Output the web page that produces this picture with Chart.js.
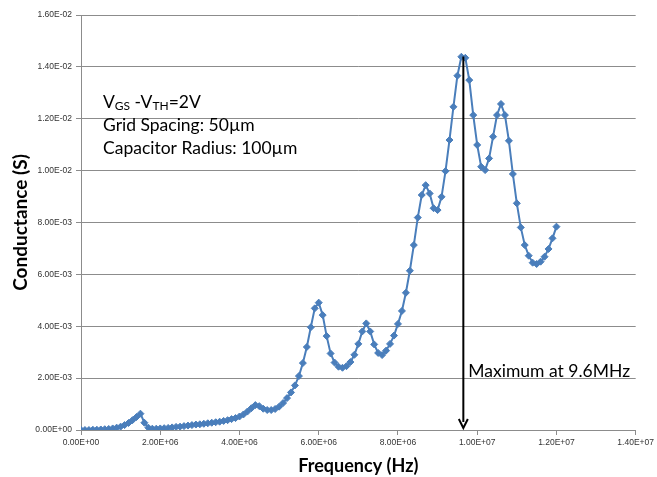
<!DOCTYPE html>
<html>
<head>
  <meta charset="utf-8">
  <title>Conductance vs Frequency</title>
  <style>
    body { margin: 0; background: #fff; }
    #wrap { width: 657px; height: 477px; }
  </style>
</head>
<body>
  <div id="wrap"><canvas id="chart" width="657" height="477"></canvas></div>
  <script src="https://cdn.jsdelivr.net/npm/chart.js"></script>
  <script>
    // frequency sweep, MHz
    const freqMHz = [
      0.0, 0.1, 0.2, 0.3, 0.4, 0.5, 0.6, 0.7, 0.8, 0.9,
      1.0, 1.1, 1.2, 1.3, 1.4, 1.5, 1.6, 1.7, 1.8, 1.9,
      2.0, 2.1, 2.2, 2.3, 2.4, 2.5, 2.6, 2.7, 2.8, 2.9,
      3.0, 3.1, 3.2, 3.3, 3.4, 3.5, 3.6, 3.7, 3.8, 3.9,
      4.0, 4.1, 4.2, 4.3, 4.4, 4.5, 4.6, 4.7, 4.8, 4.9,
      5.0, 5.1, 5.2, 5.3, 5.4, 5.5, 5.6, 5.7, 5.8, 5.9,
      6.0, 6.1, 6.2, 6.3, 6.4, 6.5, 6.6, 6.7, 6.8, 6.9,
      7.0, 7.1, 7.2, 7.3, 7.4, 7.5, 7.6, 7.7, 7.8, 7.9,
      8.0, 8.1, 8.2, 8.3, 8.4, 8.5, 8.6, 8.7, 8.8, 8.9,
      9.0, 9.1, 9.2, 9.3, 9.4, 9.5, 9.6, 9.7, 9.8, 9.9,
      10.0, 10.1, 10.2, 10.3, 10.4, 10.5, 10.6, 10.7, 10.8, 10.9,
      11.0, 11.1, 11.2, 11.3, 11.4, 11.5, 11.6, 11.7, 11.8, 11.9,
      12.0
    ];
    // measured conductance, mS
    const conductanceMilliS = [
      0.00, 0.00, 0.00, 0.01, 0.01, 0.02, 0.03, 0.04, 0.06, 0.09,
      0.13, 0.19, 0.27, 0.38, 0.50, 0.63, 0.28, 0.09, 0.05, 0.05,
      0.06, 0.07, 0.08, 0.10, 0.12, 0.13, 0.15, 0.17, 0.19, 0.21,
      0.22, 0.24, 0.26, 0.28, 0.30, 0.32, 0.35, 0.38, 0.42, 0.46,
      0.52, 0.60, 0.71, 0.84, 0.96, 0.92, 0.82, 0.77, 0.77, 0.81,
      0.90, 1.04, 1.23, 1.45, 1.72, 2.08, 2.58, 3.20, 3.96, 4.69,
      4.91, 4.43, 3.62, 2.95, 2.60, 2.44, 2.40, 2.46, 2.62, 2.90,
      3.32, 3.80, 4.11, 3.80, 3.30, 2.97, 2.89, 3.06, 3.32, 3.64,
      4.09, 4.59, 5.29, 6.14, 7.13, 8.19, 9.06, 9.44, 9.12, 8.55,
      8.48, 8.99, 9.98, 11.18, 12.46, 13.66, 14.39, 14.35, 13.49, 12.14,
      10.99, 10.15, 10.02, 10.47, 11.31, 12.14, 12.57, 12.14, 11.15, 9.87,
      8.74, 7.81, 7.13, 6.72, 6.45, 6.40, 6.49, 6.68, 6.98, 7.39,
      7.84
    ];
    const xTicks = [0, 2e6, 4e6, 6e6, 8e6, 1e7, 1.2e7, 1.4e7];
    const yTicks = [0, 0.002, 0.004, 0.006, 0.008, 0.010, 0.012, 0.014, 0.016];
    const infoLines = ["Grid Spacing: 50\u00b5m", "Capacitor Radius: 100\u00b5m"];
    const peakLabel = "Maximum at 9.6MHz";
    const arrowFreq = 9.65e6;
    const arrowTop = 0.0144;

    const blue = '#4A7EBB';
    const grid = '#8c8c8c';

    // Excel style 0.00E+00
    function sci(v) {
      const [m, e] = Number(v).toExponential(2).split('e');
      const sign = e[0] === '-' ? '-' : '+';
      const digits = e.replace(/[+-]/, '').padStart(2, '0');
      return m + 'E' + sign + digits;
    }

    const points = freqMHz.map((f, i) => ({ x: f * 1e6, y: conductanceMilliS[i] * 1e-3 }));

    const notes = {
      id: 'notes',
      afterDatasetsDraw(chart) {
        const { ctx, scales: { x, y } } = chart;
        ctx.save();
        ctx.fillStyle = '#000';
        ctx.textBaseline = 'middle';
        ctx.textAlign = 'left';
        // V_GS - V_TH line with subscripts
        const big = '17.5px Lato', small = '12px Lato';
        let cx = 103;
        const parts = [['V', big, 0], ['GS', small, 4], [' -V', big, 0], ['TH', small, 4], ['=2V', big, 0]];
        parts.forEach(([t, f, dy]) => {
          ctx.font = f;
          ctx.fillText(t, cx, 102 + dy);
          cx += ctx.measureText(t).width;
        });
        ctx.font = big;
        infoLines.forEach((t, i) => ctx.fillText(t, 103, 125 + i * 23));

        // arrow to maximum
        const ax = x.getPixelForValue(arrowFreq);
        const top = y.getPixelForValue(arrowTop);
        const bottom = y.getPixelForValue(0) - 2;
        ctx.strokeStyle = '#000';
        ctx.lineWidth = 2;
        ctx.beginPath();
        ctx.moveTo(ax, top);
        ctx.lineTo(ax, bottom - 6);
        ctx.stroke();
        ctx.beginPath();
        ctx.moveTo(ax - 4.5, bottom - 9);
        ctx.lineTo(ax, bottom);
        ctx.lineTo(ax + 4.5, bottom - 9);
        ctx.stroke();

        ctx.font = big;
        ctx.fillText(peakLabel, ax + 5, 371);
        ctx.restore();
      }
    };

    new Chart(document.getElementById('chart'), {
      type: 'scatter',
      data: {
        datasets: [{
          data: points,
          showLine: true,
          borderColor: blue,
          backgroundColor: blue,
          borderWidth: 2,
          pointStyle: 'rectRot',
          pointRadius: 3.5,
          pointBorderWidth: 1,
          tension: 0
        }]
      },
      options: {
        responsive: false,
        animation: false,
        layout: { padding: { top: 15, right: 20, left: 0, bottom: 0 } },
        plugins: { legend: { display: false }, tooltip: { enabled: false } },
        scales: {
          x: {
            type: 'linear',
            min: 0, max: 1.4e7,
            afterBuildTicks: s => { s.ticks = xTicks.map(v => ({ value: v })); },
            afterFit: s => { s.height = 47; },
            border: { color: grid, width: 1 },
            grid: { drawOnChartArea: false, color: grid, tickLength: 5 },
            ticks: {
              color: '#333', font: { family: 'Liberation Sans', size: 8.5 },
              padding: 3, maxRotation: 0, autoSkip: false,
              callback: v => sci(v)
            },
            title: {
              display: true, text: 'Frequency (Hz)', color: '#000',
              font: { family: 'Lato', size: 18, weight: 'bold' },
              padding: { top: 0, bottom: 0 }
            }
          },
          y: {
            min: 0, max: 0.016,
            afterBuildTicks: s => { s.ticks = yTicks.map(v => ({ value: v })); },
            afterFit: s => { s.width = 81; },
            border: { color: grid, width: 1 },
            grid: { color: grid, tickLength: 5 },
            ticks: {
              color: '#333', font: { family: 'Liberation Sans', size: 8.5 },
              padding: 4, autoSkip: false,
              callback: v => sci(v)
            },
            title: {
              display: true, text: 'Conductance (S)', color: '#000',
              font: { family: 'Lato', size: 19, weight: 'bold' },
              padding: { top: 9, bottom: 0 }
            }
          }
        }
      },
      plugins: [notes]
    });
  </script>
</body>
</html>
